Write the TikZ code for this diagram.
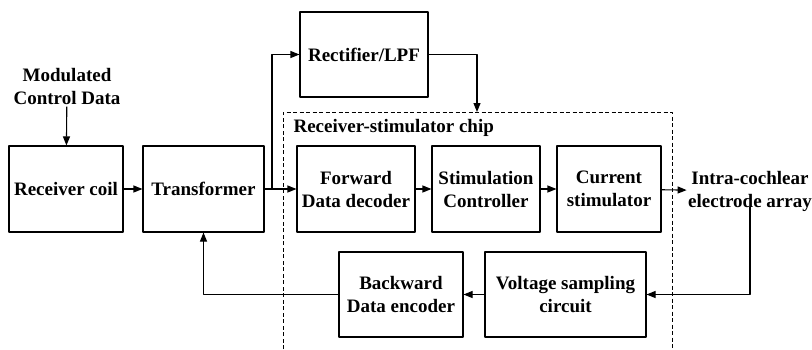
\documentclass[tikz,border=0pt]{standalone}
\usepackage{fontspec}
\setmainfont{Liberation Serif}
\usetikzlibrary{arrows.meta}
\begin{document}
\begin{tikzpicture}[x=1pt,y=-1pt,>={Triangle[length=9pt,width=7pt]},line join=round,line width=1.1pt,
	font=\bfseries\fontsize{19}{23}\selectfont,
	blk/.style={draw,align=center,inner sep=0pt,minimum height=86pt},
	chipline/.style={line width=0.9pt,dash pattern=on 4pt off 2.5pt}]
	\useasboundingbox (0,0) rectangle (812,349);
	% top row
	\node[blk,minimum width=114pt] (coil) at (66,189){Receiver coil};
	\node[blk,minimum width=121pt] (trans) at (203.5,189){Transformer};
	\node[blk,minimum width=128pt,minimum height=85pt] (rect) at (364,54.5){Rectifier/LPF};
	\node[align=center,inner sep=2pt] (mcd) at (67,86){Modulated\\Control Data};
	% chip
	\draw[chipline] (283,349) |- (672,112) -- (672,349);
	\node[anchor=west,inner sep=0pt] (chiplbl) at (293,128){Receiver-stimulator chip};
	\coordinate (chipin) at (477,112);
	\node[blk,minimum width=118pt] (fwd) at (356,189){Forward\\Data decoder};
	\node[blk,minimum width=108pt] (ctrl) at (486,189){Stimulation\\Controller};
	\node[blk,minimum width=104pt] (cur) at (609,189){Current\\stimulator};
	\node[blk,minimum width=124pt,minimum height=85pt] (bwd) at (401,294.5){Backward\\Data encoder};
	\node[blk,minimum width=161pt,minimum height=85pt] (vsc) at (565.5,294.5){Voltage sampling\\circuit};
	\node[align=center,inner sep=1pt] (elec) at (750,191){Intra-cochlear\\electrode array};
	% connections
	\coordinate (split) at (272,189);
	\draw[->] (mcd) -- (coil);
	\draw[->] (coil) -- (trans);
	\draw[->] (trans) -- (fwd);
	\draw[->] (split) |- (rect.west);
	\draw[->] (rect.east) -| (chipin);
	\draw[->] (fwd) -- (ctrl);
	\draw[->] (ctrl) -- (cur);
	\draw[->] (cur) -- (elec);
	\draw[->] ([yshift=6pt]elec.south) |- (vsc.east);
	\draw[->] (vsc) -- (bwd);
	\draw[->] (bwd.west) -| (trans.south);
\end{tikzpicture}
\end{document}
